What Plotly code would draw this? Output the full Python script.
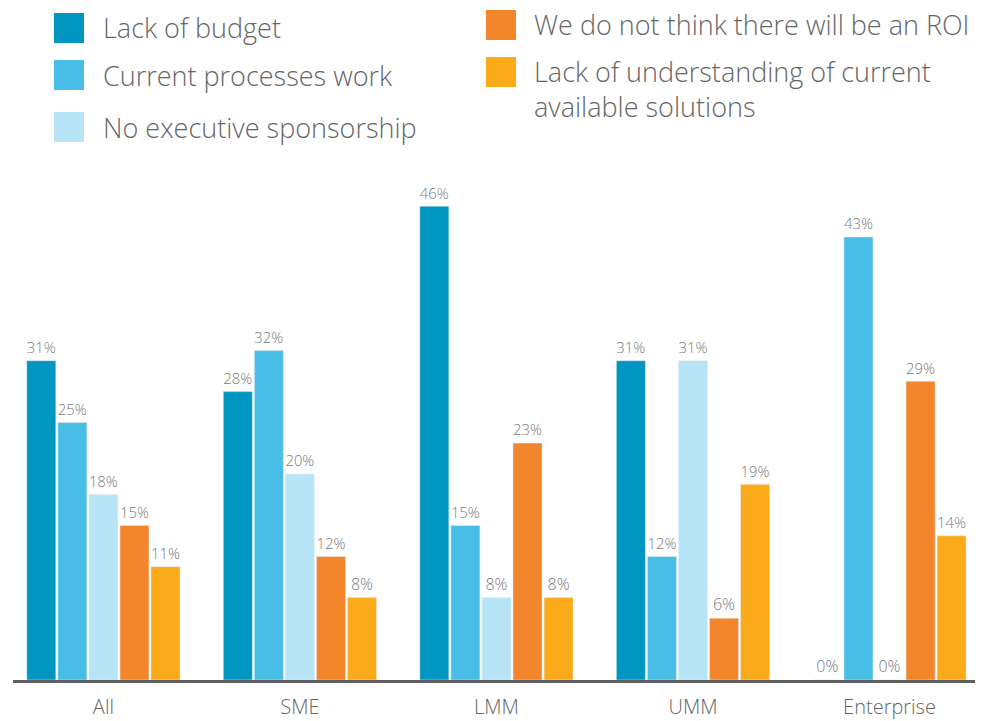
import plotly.graph_objects as go

categories = ["All", "SME", "LMM", "UMM", "Enterprise"]
series_names = [
    "Lack of budget",
    "Current processes work",
    "No executive sponsorship",
    "We do not think there will be an ROI",
    "Lack of understanding of current<br>available solutions",
]
lack_of_budget = [31, 28, 46, 31, 0]
current_processes_work = [25, 32, 15, 12, 43]
no_executive_sponsorship = [18, 20, 8, 31, 0]
no_roi = [15, 12, 23, 6, 29]
lack_of_understanding = [11, 8, 8, 19, 14]

series_values = [lack_of_budget, current_processes_work, no_executive_sponsorship, no_roi, lack_of_understanding]
colors = ["#0096C2", "#48BDE6", "#B8E4F7", "#F3862B", "#FBAA1A"]

# page body has an 8px offset; figure is sized to fit inside the window
OFF = 8
W, H = 989 - 2 * OFF, 721 - OFF
# plot area in reference (window) pixel coords: x 13..975, y 165..680
ML = 13 - OFF
MR = W - (975 - OFF)
MT = 165 - OFF
MB = H - (680 - OFF)
PW, PH = W - ML - MR, H - MT - MB

def px(x):
    return (x - OFF - ML) / PW

def py(y):
    return (H - MB - (y - OFF)) / PH

fig = go.Figure()
for name, vals, col in zip(series_names, series_values, colors):
    fig.add_trace(go.Bar(
        x=categories, y=vals, name=name, marker_color=col,
        text=[f"{v}%" for v in vals], textposition="outside",
        textfont=dict(size=16, color="#7a7a7a", family="Open Sans", weight=300),
        cliponaxis=False, showlegend=False,
    ))

# custom two-column legend: (square x, square center y, text x, text center y)
legend_pos = [
    (54, 28, 104, 28),
    (54, 75, 104, 75),
    (54, 127, 104, 127),
    (486, 25, 535, 25),
    (486, 72, 535, 89),
]
shapes = []
annotations = []
for i, (sx, cy, tx, ty) in enumerate(legend_pos):
    shapes.append(dict(type="rect", xref="paper", yref="paper",
                       x0=px(sx), x1=px(sx + 30), y0=py(cy + 15), y1=py(cy - 15),
                       fillcolor=colors[i], line=dict(width=0)))
    annotations.append(dict(xref="paper", yref="paper", x=px(tx - 3), y=py(ty),
                            xanchor="left", yanchor="middle", align="left",
                            text=series_names[i], showarrow=False,
                            font=dict(size=27, color="#666666", family="Open Sans", weight=300)))

fig.update_layout(
    width=W, height=H,
    margin=dict(l=ML, r=MR, t=MT, b=MB, autoexpand=False),
    paper_bgcolor="white", plot_bgcolor="white",
    barmode="group", bargap=0.21, bargroupgap=0.065,
    shapes=shapes, annotations=annotations,
    xaxis=dict(range=[-0.46, 4.435], showgrid=False, showline=True, automargin=False,
               linecolor="#5f5f5f", linewidth=3,
               ticks="outside", ticklen=7, tickcolor="rgba(0,0,0,0)",
               tickfont=dict(size=20, color="#666666", family="Open Sans", weight=300)),
    yaxis=dict(range=[0, 50], visible=False, showgrid=False, zeroline=False, automargin=False),
    font=dict(family="Open Sans"),
)

fig.write_html("out.html")
